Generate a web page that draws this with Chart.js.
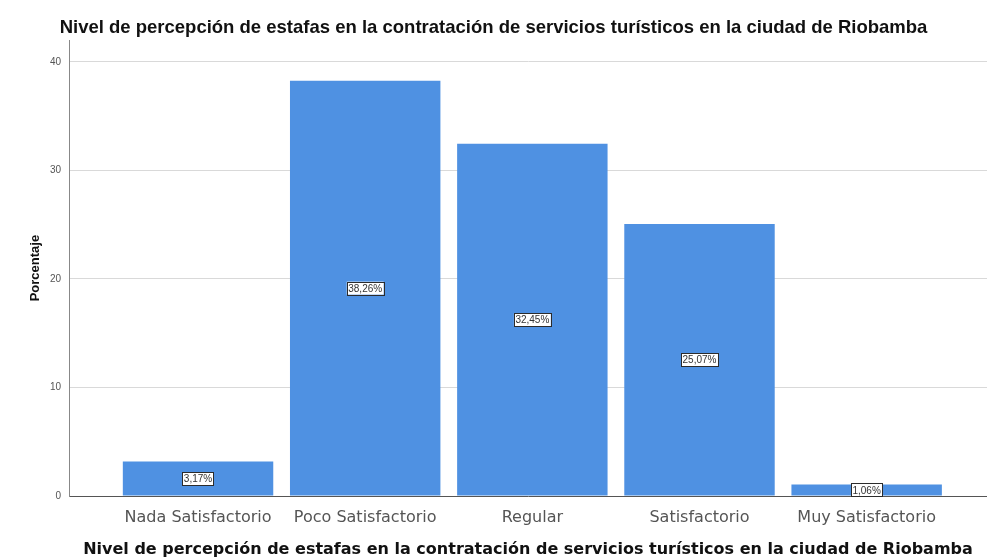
<!DOCTYPE html>
<html>
<head>
<meta charset="utf-8">
<script src="https://cdn.jsdelivr.net/npm/chart.js@4"></script>
<style>
  html, body { margin: 0; padding: 0; background: #fff; }
  #wrap { width: 987px; height: 560px; }
</style>
</head>
<body>
<div id="wrap"><canvas id="chart" width="987" height="560"></canvas></div>
<script>
const categories = [
    "Nada Satisfactorio",
    "Poco Satisfactorio",
    "Regular",
    "Satisfactorio",
    "Muy Satisfactorio"
];
const porcentajes = [3.17, 38.26, 32.45, 25.07, 1.06];
const yTicks = [0, 10, 20, 30, 40];
const titulo = "Nivel de percepción de estafas en la contratación de servicios turísticos en la ciudad de Riobamba";

// etiqueta con caja blanca en el centro de cada barra
const etiquetas = {
    id: 'etiquetas',
    afterDatasetsDraw(chart) {
        const ctx = chart.ctx;
        const meta = chart.getDatasetMeta(0);
        ctx.save();
        ctx.font = '10px "Liberation Sans", Arial, sans-serif';
        ctx.textAlign = 'center';
        ctx.textBaseline = 'middle';
        meta.data.forEach((bar, i) => {
            const txt = porcentajes[i].toFixed(2).replace('.', ',') + '%';
            const y = (bar.y + bar.base) / 2;
            const w = ctx.measureText(txt).width + 3;
            const h = 13;
            ctx.fillStyle = '#fff';
            ctx.fillRect(bar.x - w / 2, y - h / 2, w, h);
            ctx.strokeStyle = '#2b2b2b';
            ctx.lineWidth = 1;
            ctx.strokeRect(Math.round(bar.x - w / 2) + 0.5, Math.round(y - h / 2) + 0.5, Math.round(w), h);
            ctx.fillStyle = '#333';
            ctx.fillText(txt, bar.x, y + 1);
        });
        ctx.restore();
    }
};

new Chart(document.getElementById("chart").getContext('2d'), {
    type: 'bar',
    data: {
        datasets: [{
            data: porcentajes.map((v, i) => ({ x: i, y: v })),
            backgroundColor: 'rgb(79, 145, 226)',
            borderWidth: 0,
            categoryPercentage: 1,
            barPercentage: 0.9
        }]
    },
    plugins: [etiquetas],
    options: {
        responsive: false,
        animation: false,
        layout: { padding: 0 },
        plugins: {
            legend: { display: false },
            tooltip: { enabled: false },
            title: {
                display: true,
                text: titulo,
                color: '#111',
                font: { family: '"Liberation Sans", Arial, sans-serif', size: 18.5, weight: 'bold' },
                padding: { top: 17, bottom: 1 }
            }
        },
        scales: {
            x: {
                type: 'linear',
                offset: false,
                min: -0.772,
                max: 4.72,
                afterBuildTicks: s => { s.ticks = categories.map((c, i) => ({ value: i })); },
                afterFit: s => { s.height = 64; },
                ticks: {
                    callback: v => categories[v] || '',
                    color: '#555',
                    padding: 4,
                    maxRotation: 0,
                    autoSkip: false,
                    font: { family: '"DejaVu Sans", sans-serif', size: 16 }
                },
                grid: { display: false },
                border: { display: true, color: '#555', width: 1 },
                title: {
                    display: true,
                    text: titulo,
                    color: '#111',
                    font: { family: '"DejaVu Sans", sans-serif', size: 16, weight: 'bold' },
                    padding: { top: 4, bottom: 1 }
                }
            },
            y: {
                min: 0,
                max: 42,
                afterBuildTicks: s => { s.ticks = yTicks.map(v => ({ value: v })); },
                afterFit: s => { s.width = 69; },
                ticks: {
                    color: '#555',
                    padding: 8,
                    font: { family: '"Liberation Sans", Arial, sans-serif', size: 10 }
                },
                grid: { color: '#d9d9d9', drawTicks: false },
                border: { display: true, color: '#888', width: 1 },
                title: {
                    display: true,
                    text: 'Porcentaje',
                    color: '#111',
                    font: { family: '"Liberation Sans", Arial, sans-serif', size: 13, weight: 'bold' },
                    padding: { top: 28, bottom: 0 }
                }
            }
        }
    }
});
</script>
</body>
</html>
